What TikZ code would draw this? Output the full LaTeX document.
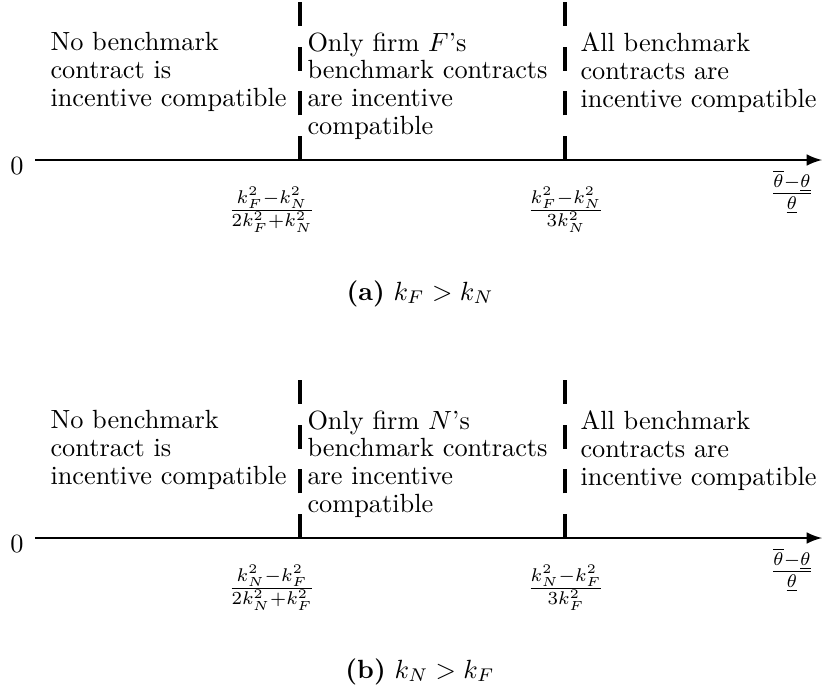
\documentclass[tikz,border=0pt]{standalone}
\usepackage{amsmath, amssymb}
\usepackage{tikz}
\usetikzlibrary{arrows,positioning}

\begin{document}
\begin{tikzpicture}[
    x=0.38pt, y=-0.38pt,
    axis/.style={->, >=latex, line width=1pt},
    divider/.style={line width=1.3pt, dash pattern=on 9.1pt off 7.9pt},
    region/.style={anchor=north west, inner sep=0pt, align=left, font=\fontsize{10}{10.6}\selectfont},
    cut/.style={inner sep=0pt},
    caption/.style={anchor=base, inner sep=0pt}
]
\useasboundingbox (0,0) rectangle (822,695);

% Panel (a)
\node[cut] (zeroA) at (17,166) {$0$};
\coordinate (startA) at (35,160);
\coordinate (endA) at (822,160);
\draw[axis] (startA) -- (endA);

\coordinate (lowA) at (300,160);
\coordinate (lowtopA) at (300,2);
\coordinate (highA) at (565,160);
\coordinate (hightopA) at (565,2);
\draw[divider] (lowA) -- (lowtopA);
\draw[divider] (highA) -- (hightopA);

\node[region] (noneA) at (50,32) {No benchmark\\contract is\\incentive compatible};
\node[region] (onlyA) at (307,32) {Only firm $F$'s\\benchmark contracts\\are incentive\\compatible};
\node[region] (allA) at (580,32) {All benchmark\\contracts are\\incentive compatible};

\node[cut] (lowcutA) at (272,210) {$\frac{k_F^2-k_N^2}{2k_F^2+k_N^2}$};
\node[cut] (highcutA) at (566,210) {$\frac{k_F^2-k_N^2}{3k_N^2}$};
\node[cut] (thetaA) at (792,192) {$\frac{\overline{\theta}-\underline{\theta}}{\underline{\theta}}$};

\node[caption] (capA) at (420,300) {\textbf{(a)} $k_F > k_N$};

% Panel (b)
\node[cut] (zeroB) at (17,544) {$0$};
\coordinate (startB) at (35,538);
\coordinate (endB) at (822,538);
\draw[axis] (startB) -- (endB);

\coordinate (lowB) at (300,538);
\coordinate (lowtopB) at (300,380);
\coordinate (highB) at (565,538);
\coordinate (hightopB) at (565,380);
\draw[divider] (lowB) -- (lowtopB);
\draw[divider] (highB) -- (hightopB);

\node[region] (noneB) at (50,410) {No benchmark\\contract is\\incentive compatible};
\node[region] (onlyB) at (307,410) {Only firm $N$'s\\benchmark contracts\\are incentive\\compatible};
\node[region] (allB) at (580,410) {All benchmark\\contracts are\\incentive compatible};

\node[cut] (lowcutB) at (272,588) {$\frac{k_N^2-k_F^2}{2k_N^2+k_F^2}$};
\node[cut] (highcutB) at (566,588) {$\frac{k_N^2-k_F^2}{3k_F^2}$};
\node[cut] (thetaB) at (792,570) {$\frac{\overline{\theta}-\underline{\theta}}{\underline{\theta}}$};

\node[caption] (capB) at (420,678) {\textbf{(b)} $k_N > k_F$};

\end{tikzpicture}
\end{document}
